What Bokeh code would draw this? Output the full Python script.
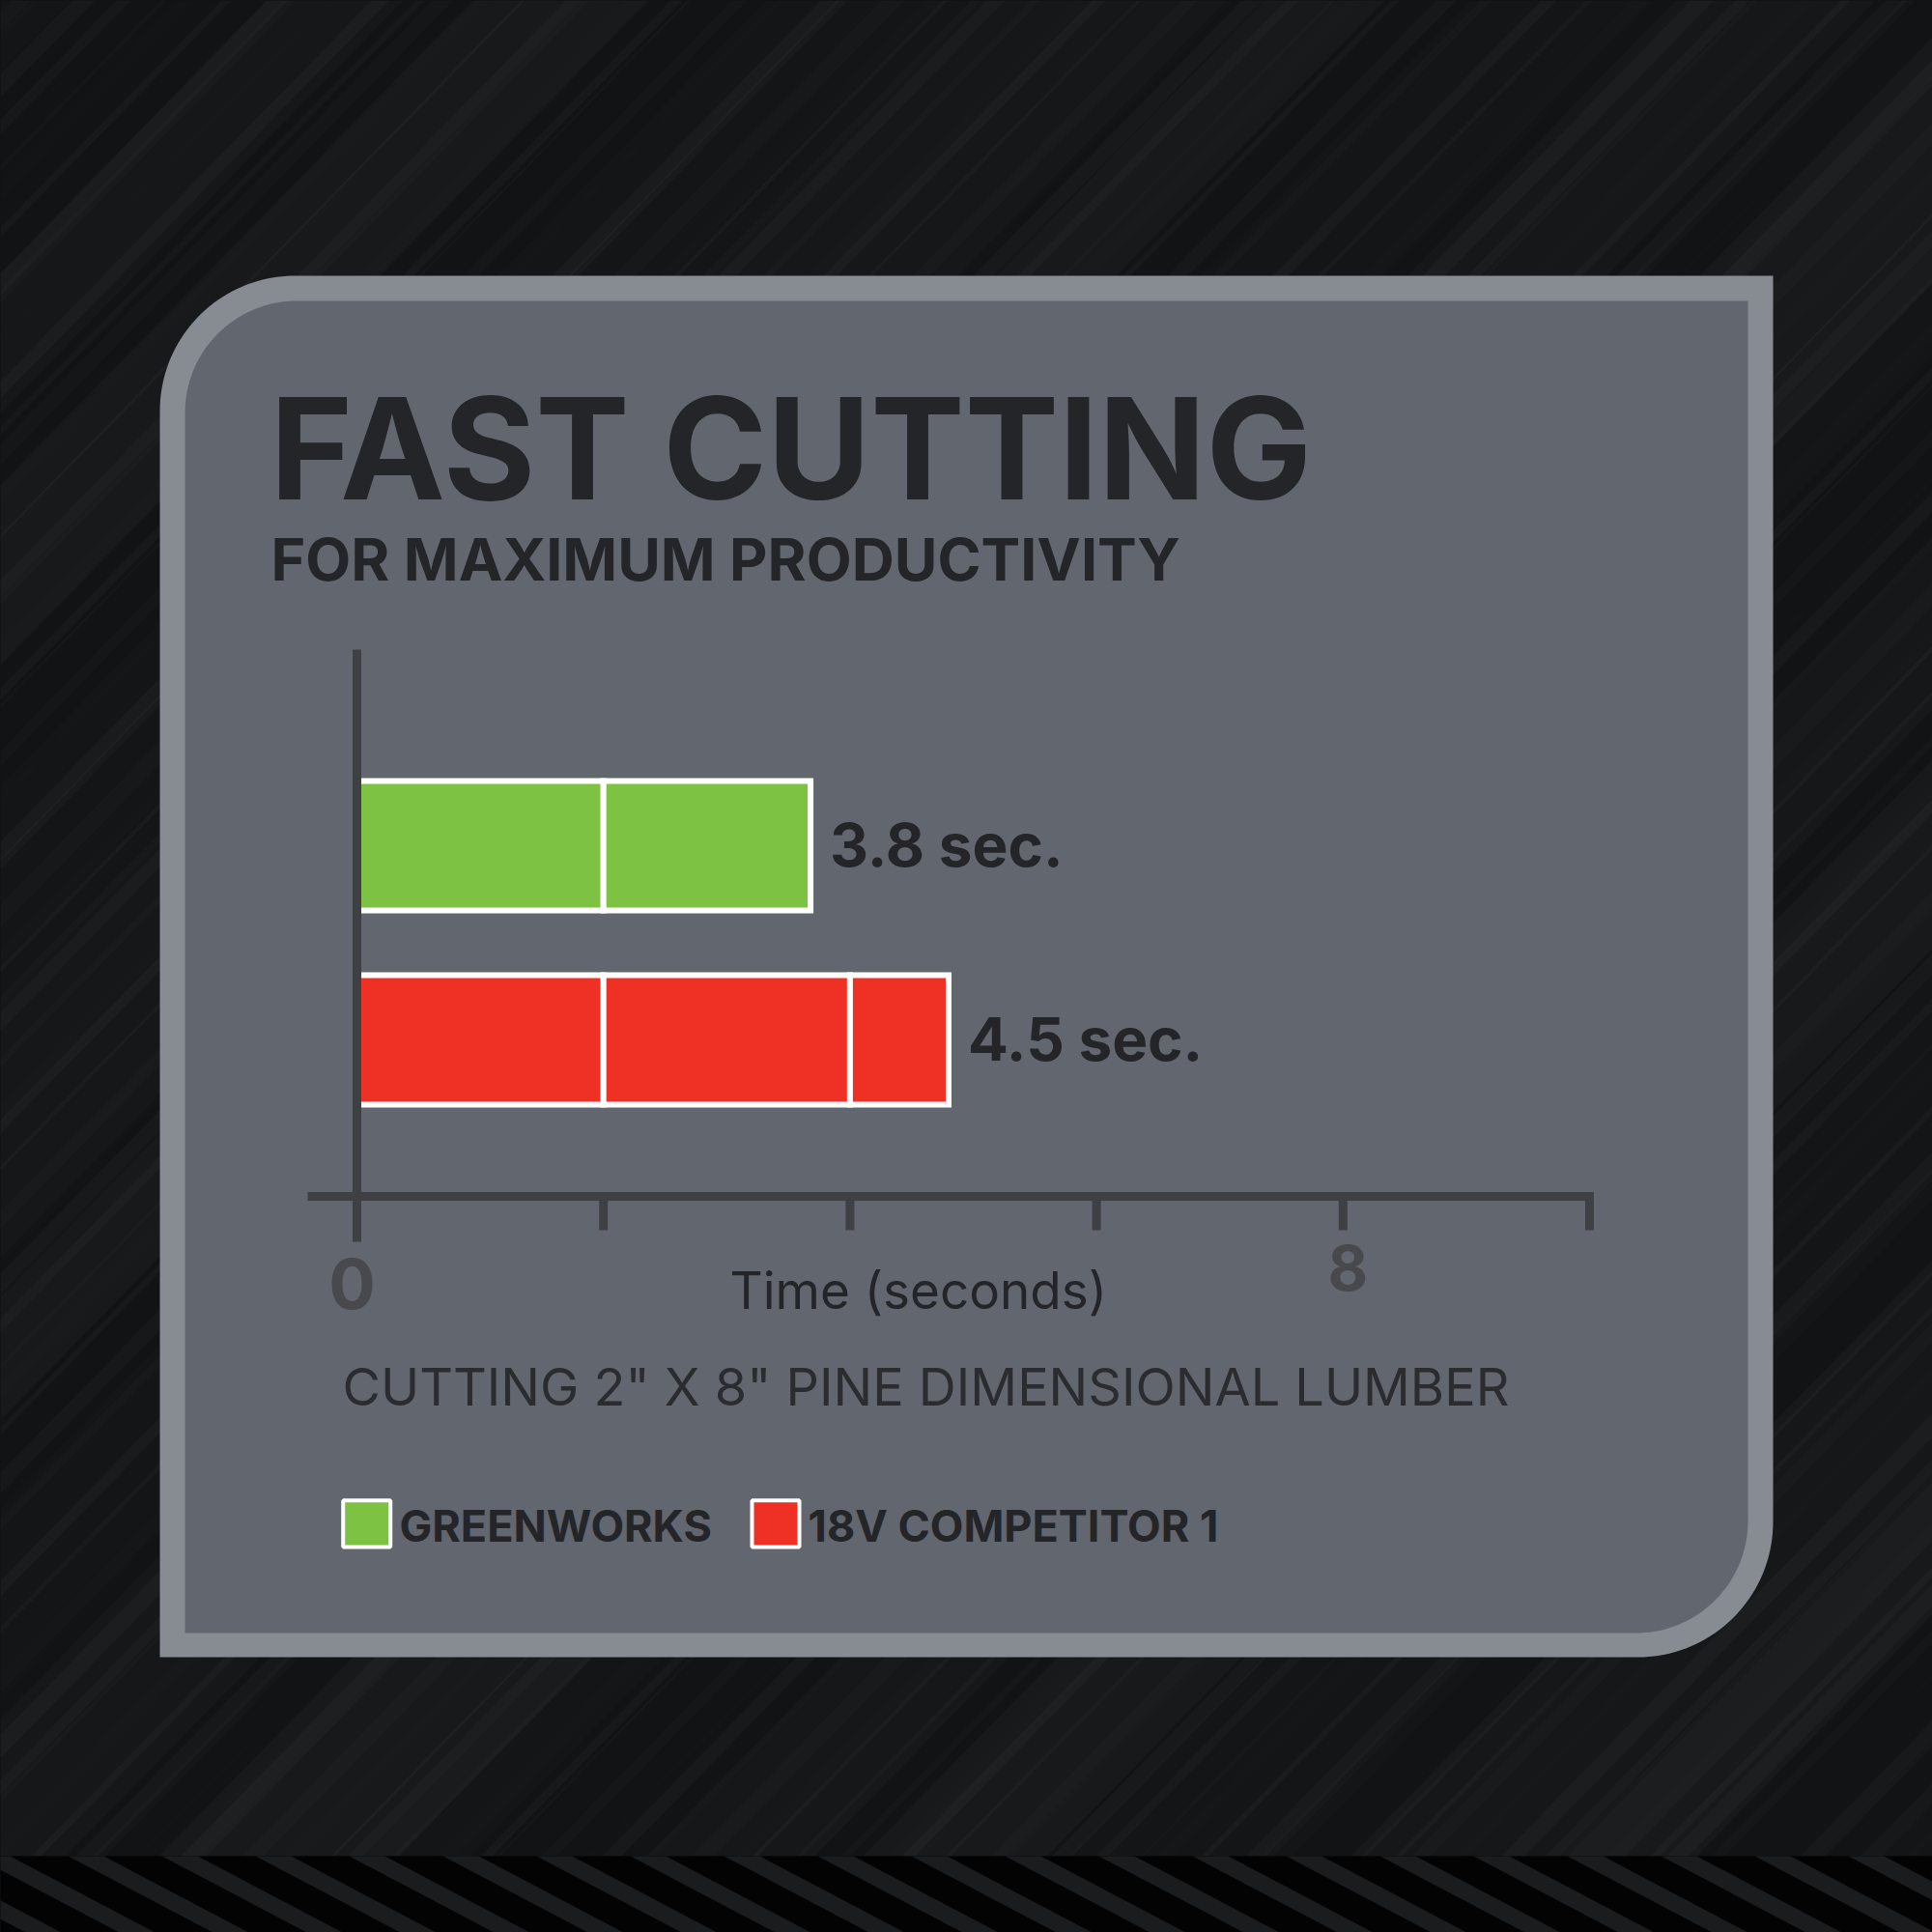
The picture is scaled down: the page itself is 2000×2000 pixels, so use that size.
import numpy as np
from bokeh.plotting import figure
from bokeh.models import Range1d, GlobalInlineStyleSheet
from bokeh.core.properties import value
from bokeh.embed import file_html
from bokeh.resources import INLINE

# ---------------- data ----------------
series_names = ["GREENWORKS", "18V COMPETITOR 1"]
bar_lengths = [3.68, 4.8]                 # drawn bar lengths in seconds
value_labels = ["3.8 sec.", "4.5 sec."]
series_colors = ["#7dc243", "#ee3124"]
tick_values = [0, 2, 4, 6, 8, 10]
tick_labels = ["0", "", "", "", "8", ""]
segment_size = 2
title_text = "FAST CUTTING"
subtitle_text = "FOR MAXIMUM PRODUCTIVITY"
axis_title = "Time (seconds)"
caption_text = 'CUTTING 2" X 8" PINE DIMENSIONAL LUMBER'

# ---------------- layout (page pixels) ----------------
W = H = 2000
X0_PX = 369.0      # pixel of 0 s
PX_PER_S = 127.6
FONT = value("Inter")
DARK = "#232529"
BFIX = 0.37        # baseline correction factor (fraction of font size)


def base(y, size):
    return y - BFIX * size


p = figure(width=W, height=H,
           x_range=Range1d(-X0_PX / PX_PER_S, (W - X0_PX) / PX_PER_S),
           y_range=Range1d(H, 0),
           output_backend="svg", toolbar_location=None,
           x_axis_location=None, y_axis_location=None,
           min_border=0, background_fill_color="#111315",
           border_fill_color="#111315", outline_line_color=None)
p.extra_x_ranges = {"px": Range1d(0, W)}
p.xgrid.visible = False
p.ygrid.visible = False
p.stylesheets = [GlobalInlineStyleSheet(css="html, body { background: #111315; }")]

# ---------------- background streaks ----------------
band_top = 1921
slope_dx = 1950.0  # horizontal travel over full height (up-right streaks)
run = slope_dx * (band_top + 20) / 2000
xs, ys, al = [], [], []
for i in range(110):
    b = -2000 + i * 38 + (i * 37) % 29
    w = 3 + (i * 13) % 22
    a = 0.008 + 0.007 * ((i * 7) % 4)
    xs.append([b, b + w, b + w + run, b + run])
    ys.append([band_top, band_top, -20, -20])
    al.append(a)
for i in range(16):
    b = -1900 + i * 250 + (i * 53) % 90
    w = 100 + (i * 41) % 180
    a = 0.012 + 0.007 * (i % 3)
    xs.append([b, b + w, b + w + run, b + run])
    ys.append([band_top, band_top, -20, -20])
    al.append(a)
p.patches(xs, ys, fill_color="white", fill_alpha=al, line_color=None, x_range_name="px")

# bottom striped band
p.quad(left=[-50], right=[2050], top=[band_top], bottom=[2050], fill_color="#030303",
       line_color=None, x_range_name="px")
sx, sy = [], []
period, sw, sdx = 97, 37, 150
for k in range(-4, 24):
    a0 = 70 + period * k
    sx.append([a0, a0 + sw, a0 + sw + sdx, a0 + sdx])
    sy.append([band_top, band_top, band_top + 79, band_top + 79])
p.patches(sx, sy, fill_color="#1b1c1e", line_color=None, x_range_name="px")


# ---------------- panel ----------------
def panel(l, t, r, b, rad):
    a1 = np.linspace(np.pi, 1.5 * np.pi, 40)
    a2 = np.linspace(0, 0.5 * np.pi, 40)
    px = list(l + rad + rad * np.cos(a1)) + [r, r] + list(r - rad + rad * np.cos(a2)) + [l]
    py = list(t + rad + rad * np.sin(a1)) + [t, b - rad] + list(b - rad + rad * np.sin(a2)) + [b]
    return px, py


ox, oy = panel(165, 285, 1835, 1715, 140)
ix, iy = panel(191, 311, 1809, 1690, 116)
p.patch(ox, oy, fill_color="#878c92", line_color=None, x_range_name="px")
p.patch(ix, iy, fill_color="#62666e", line_color=None, x_range_name="px")

# ---------------- titles ----------------
p.text(x=[279], y=[base(518, 146)], text=[title_text], text_font=FONT, text_font_style="bold",
       text_font_size="146px", text_color=DARK, text_baseline="alphabetic", x_range_name="px")
p.text(x=[280], y=[base(601, 61)], text=[subtitle_text], text_font=FONT, text_font_style="bold",
       text_font_size="61px", text_color=DARK, text_baseline="alphabetic", x_range_name="px")

# ---------------- bars ----------------
bar_centers = [875, 1076]
bar_half = 67
L, R, T, B, C = [], [], [], [], []
for i, length in enumerate(bar_lengths):
    s = 0.0
    while s < length - 1e-9:
        e = min(s + segment_size, length)
        L.append(s); R.append(e)
        T.append(bar_centers[i] - bar_half); B.append(bar_centers[i] + bar_half)
        C.append(series_colors[i])
        s += segment_size
p.quad(left=L, right=R, top=T, bottom=B, fill_color=C, line_color="white", line_width=6,
       line_join="miter")

p.text(x=bar_lengths, y=[base(c + 22, 62) for c in bar_centers], text=value_labels, x_offset=20,
       text_font=FONT, text_font_style="bold", text_font_size="62px", text_color=DARK,
       text_baseline="alphabetic")

# ---------------- axis ----------------
AX = "#3f4043"
axis_y = 1238
p.segment(x0=[tick_values[0] - 51 / PX_PER_S], x1=[tick_values[-1] + 4.5 / PX_PER_S],
          y0=[axis_y], y1=[axis_y], line_color=AX, line_width=9, line_cap="butt")
p.segment(x0=[0], x1=[0], y0=[672], y1=[1285], line_color=AX, line_width=9, line_cap="butt")
p.segment(x0=tick_values[1:], x1=tick_values[1:], y0=[axis_y] * 5, y1=[1273] * 5,
          line_color=AX, line_width=9, line_cap="butt")

lab_x = [v for v, t in zip(tick_values, tick_labels) if t]
lab_t = [t for t in tick_labels if t]
p.text(x=lab_x, y=[base(1355, 72), base(1336, 64)], text=lab_t, text_align="center",
       x_offset=[-5, 5],
       text_font=FONT, text_font_style="bold", text_font_size=["72px", "64px"],
       text_color="#47494d", text_baseline="alphabetic")

p.text(x=[755], y=[base(1355, 53)], text=[axis_title], text_font=FONT, text_font_size="53px",
       text_color=DARK, text_baseline="alphabetic", x_range_name="px")
p.text(x=[354], y=[base(1455, 54)], text=[caption_text], text_font=FONT, text_font_size="54px",
       text_color="#2a2c30", text_baseline="alphabetic", x_range_name="px")

# ---------------- legend ----------------
sw_left = [354.7, 778]
sw_text_x = [413, 836]
p.quad(left=sw_left, right=[l + 49 for l in sw_left], top=[1552.7] * 2, bottom=[1601] * 2,
       fill_color=series_colors, line_color="white", line_width=4, x_range_name="px")
p.text(x=sw_text_x, y=[base(1596, 45)] * 2, text=series_names, text_font=FONT, text_font_style="bold",
       text_font_size="45px", text_color=DARK, text_baseline="alphabetic", x_range_name="px")

open("out.html", "w").write(file_html(p, INLINE))
